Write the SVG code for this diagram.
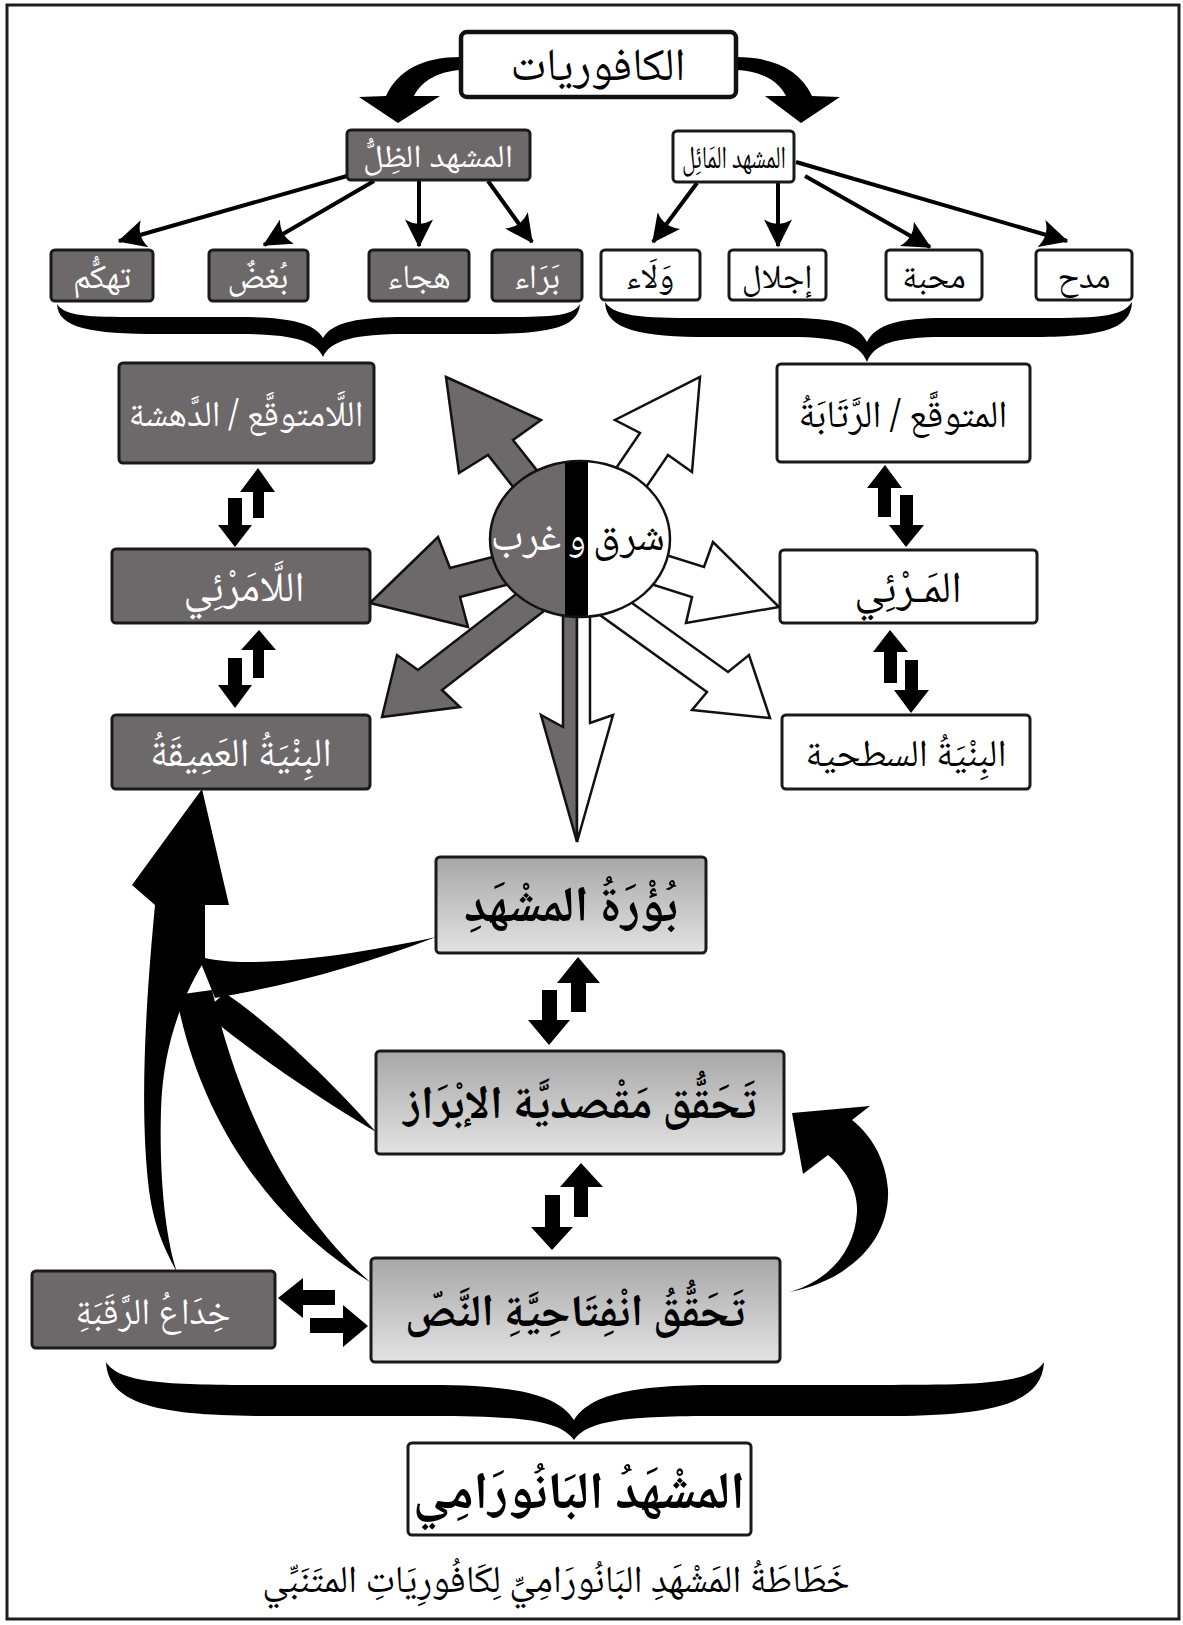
<svg xmlns="http://www.w3.org/2000/svg" width="1183" height="1625" viewBox="0 0 1183 1625">
  <defs>
    <linearGradient id="boxGrad" x1="0" y1="0" x2="0" y2="1">
      <stop offset="0" stop-color="#a7a7a7"/>
      <stop offset="1" stop-color="#e3e3e3"/>
    </linearGradient>
    <marker id="barb" viewBox="0 0 10 10" refX="9.5" refY="5" markerWidth="7.5" markerHeight="7" orient="auto" markerUnits="strokeWidth">
      <path d="M0,0 L10,5 L0,10 Q3,5 0,0 Z" fill="#000"/>
    </marker>
    <clipPath id="disc">
      <ellipse cx="580" cy="539" rx="90" ry="78"/>
    </clipPath>
  </defs>
  <style>
    .ar { font-family: "Noto Naskh Arabic", "Noto Sans Arabic", "DejaVu Sans", sans-serif; text-anchor: middle; direction: rtl; }
    .dark { fill: #6d6869; stroke: #1a1a1a; stroke-width: 3; }
    .light { fill: #ffffff; stroke: #1a1a1a; stroke-width: 3; }
    .grad { fill: url(#boxGrad); stroke: #1a1a1a; stroke-width: 3; }
    .wt { fill: #ffffff; }
    .bk { fill: #000000; }
    .link { stroke: #000; stroke-width: 4; fill: none; marker-end: url(#barb); }
    .ray-g { fill: #6d6869; stroke: #111; stroke-width: 2.5; stroke-linejoin: miter; }
    .ray-w { fill: #ffffff; stroke: #111; stroke-width: 2.5; stroke-linejoin: miter; }
    .solid { fill: #000000; }
    .brace { fill: #000000; }
  </style>

  <rect width="1183" height="1625" fill="#ffffff"/>
  <rect x="7" y="5" width="1172" height="1614" fill="none" stroke="#1e1e1e" stroke-width="3"/>

  <!-- connectors -->
  <g id="connectors">
    <!-- root to the two scenes -->
    <path class="solid" d="M461,57 C423,57 398,70 386,96 L359,97 L398,123 L440,96 L414,96 C422,80 440,71 461,70 Z"/>
    <path class="solid" d="M736,57 C774,57 800,70 812,96 L840,97 L801,123 L765,96 L786,96 C778,80 760,71 736,70 Z"/>

    <!-- shadow scene fan -->
    <line class="link" x1="347" y1="176" x2="119" y2="241"/>
    <line class="link" x1="374" y1="181" x2="264" y2="245"/>
    <line class="link" x1="419" y1="181" x2="419" y2="246"/>
    <line class="link" x1="488" y1="181" x2="532" y2="242"/>
    <!-- tilted scene fan -->
    <line class="link" x1="697" y1="183" x2="653" y2="242"/>
    <line class="link" x1="778" y1="183" x2="778" y2="246"/>
    <line class="link" x1="805" y1="176" x2="930" y2="247"/>
    <line class="link" x1="796" y1="162" x2="1067" y2="241"/>

    <!-- braces -->
    <path class="brace" d="M57,304 C58,328 90,334 160,334 L240,334 C290,334 316,340 323,357 C330,340 356,334 406,334 L480,334 C550,334 578,328 580,304 C572,318 545,317 480,317 L406,317 C360,317 332,322 323,338 C314,322 286,317 240,317 L160,317 C95,317 66,318 57,304 Z"/>
    <path class="brace" d="M605,302 C606,330 640,337 710,337 L790,337 C840,337 860,344 867,362 C874,344 894,337 944,337 L1030,337 C1100,337 1131,330 1132,302 C1122,318 1095,318 1030,318 L944,318 C900,318 876,324 867,342 C858,324 834,318 790,318 L710,318 C650,318 615,318 605,302 Z"/>
    <path class="brace" d="M106,1362 C108,1405 160,1416 270,1416 L430,1416 C520,1416 560,1420 574,1440 C588,1420 628,1416 718,1416 L880,1416 C990,1416 1042,1405 1044,1362 C1030,1384 980,1385 880,1385 L718,1385 C630,1385 590,1395 574,1420 C558,1395 518,1385 430,1385 L270,1385 C170,1385 120,1384 106,1362 Z"/>

    <!-- paired arrows, left column -->
    <path class="solid" d="M228,498 L242,498 L242,525 L252,525 L235,547 L218,525 L228,525 Z"/>
    <path class="solid" d="M253,518 L264,518 L264,492 L275,492 L258,468 L240,492 L253,492 Z"/>
    <path class="solid" d="M228,658 L242,658 L242,685 L252,685 L235,708 L218,685 L228,685 Z"/>
    <path class="solid" d="M253,678 L264,678 L264,650 L276,650 L259,630 L241,650 L253,650 Z"/>
    <!-- paired arrows, right column -->
    <path class="solid" d="M878,517 L891,517 L891,488 L902,488 L885,465 L867,488 L878,488 Z"/>
    <path class="solid" d="M900,495 L913,495 L913,525 L924,525 L906,547 L889,525 L900,525 Z"/>
    <path class="solid" d="M884,683 L897,683 L897,652 L908,652 L890,630 L873,652 L884,652 Z"/>
    <path class="solid" d="M905,660 L918,660 L918,690 L929,690 L911,713 L894,690 L905,690 Z"/>
    <!-- paired arrows, centre column -->
    <path class="solid" d="M542,990 L557,990 L557,1020 L570,1020 L549,1045 L528,1020 L542,1020 Z"/>
    <path class="solid" d="M571,1012 L586,1012 L586,983 L600,983 L578,957 L557,983 L571,983 Z"/>
    <path class="solid" d="M545,1195 L560,1195 L560,1227 L573,1227 L552,1250 L531,1227 L545,1227 Z"/>
    <path class="solid" d="M574,1217 L588,1217 L588,1187 L603,1187 L581,1163 L560,1187 L574,1187 Z"/>
    <!-- paired arrows, horizontal -->
    <path class="solid" d="M335,1290 L335,1305 L303,1305 L303,1318 L278,1298 L303,1278 L303,1290 Z"/>
    <path class="solid" d="M310,1318 L343,1318 L343,1305 L368,1326 L343,1347 L343,1333 L310,1333 Z"/>

    <!-- sweeping arrow into the deep structure -->
    <path class="solid" d="M202,789 L229,905 L205,905 L205,960 C186,990 163,1040 161,1110 C159,1180 166,1240 177,1272 C166,1252 154,1228 149,1190 C138,1100 148,980 155,905 L132,885 Z"/>
    <path class="solid" d="M176,995 C200,1120 270,1222 370,1282 C290,1210 240,1110 212,990 Z"/>
    <path class="solid" d="M225,993 C272,1025 330,1080 376,1132 C322,1100 262,1060 203,1012 Z"/>
    <path class="solid" d="M198,956 C240,970 340,958 436,937 C360,966 290,985 215,998 Z"/>

    <!-- return arrow on the right -->
    <path class="solid" d="M790,1292 C850,1280 890,1240 888,1190 C886,1160 872,1136 852,1120 L870,1106 L792,1113 L803,1174 L828,1155 C846,1170 858,1190 857,1212 C855,1250 830,1280 790,1292 Z"/>
  </g>

  <!-- east / west rose -->
  <g id="rose">
    <polygon class="ray-g" points="446,377 541,420 513,440 550,487 525,502 488,455 459,473"/>
    <polygon class="ray-g" points="370,603 438,537 450,568 508,553 518,582 460,597 468,627"/>
    <polygon class="ray-g" points="382,717 397,655 418,670 529,584 553,604 442,690 460,707"/>
    <polygon class="ray-w" points="700,377 692,472 668,455 634,505 606,483 640,433 615,420"/>
    <polygon class="ray-w" points="779,607 686,623 692,597 635,579 647,549 704,567 713,542"/>
    <polygon class="ray-w" points="770,718 692,710 707,692 593,610 614,590 728,672 749,655"/>
    <polygon class="ray-g" points="563,600 577,600 577,842 541,715 563,727"/>
    <polygon class="ray-w" points="577,600 590,600 590,723 613,715 577,842"/>
    <ellipse cx="580" cy="539" rx="90" ry="78" fill="#ffffff"/>
    <rect x="480" y="450" width="97" height="180" fill="#6d6869" clip-path="url(#disc)"/>
    <rect x="565" y="450" width="23" height="180" fill="#000000" clip-path="url(#disc)"/>
    <ellipse cx="580" cy="539" rx="90" ry="78" fill="none" stroke="#111" stroke-width="2.5"/>
    <text class="ar wt" x="526" y="550" font-size="42">غرب</text>
    <text class="ar wt" x="577" y="550" font-size="38">و</text>
    <text class="ar bk" x="629" y="550" font-size="42">شرق</text>
  </g>

  <!-- nodes -->
  <g id="n-root">
    <rect x="461" y="32" width="275" height="65" rx="6" fill="#fff" stroke="#111" stroke-width="4.5"/>
    <text class="ar bk" x="598" y="80" font-size="46">الكافوريات</text>
  </g>
  <g id="n-shadow">
    <rect class="dark" x="347" y="130" width="183" height="50" rx="4"/>
    <text class="ar wt" x="438" y="167" font-size="32" textLength="150" lengthAdjust="spacingAndGlyphs">المشهد الظِلُّ</text>
  </g>
  <g id="n-tilted">
    <rect class="light" x="673" y="131" width="121" height="51" rx="4"/>
    <text class="ar bk" x="734" y="168" font-size="32" textLength="104" lengthAdjust="spacingAndGlyphs">المشهد المَائِل</text>
  </g>

  <g id="n-tahakkum">
    <rect class="dark" x="51" y="250" width="102" height="51" rx="4"/>
    <text class="ar wt" x="102" y="288" font-size="34">تهكُّم</text>
  </g>
  <g id="n-bughd">
    <rect class="dark" x="209" y="250" width="99" height="51" rx="4"/>
    <text class="ar wt" x="258" y="288" font-size="34">بُغضٌ</text>
  </g>
  <g id="n-hija">
    <rect class="dark" x="369" y="250" width="100" height="51" rx="4"/>
    <text class="ar wt" x="419" y="288" font-size="34">هجاء</text>
  </g>
  <g id="n-baraa">
    <rect class="dark" x="492" y="250" width="90" height="51" rx="4"/>
    <text class="ar wt" x="537" y="288" font-size="34">بَرَاء</text>
  </g>
  <g id="n-walaa">
    <rect class="light" x="601" y="250" width="99" height="50" rx="4"/>
    <text class="ar bk" x="650" y="288" font-size="34">وَلَاء</text>
  </g>
  <g id="n-ijlal">
    <rect class="light" x="729" y="250" width="97" height="50" rx="4"/>
    <text class="ar bk" x="777" y="288" font-size="34">إجلال</text>
  </g>
  <g id="n-mahabba">
    <rect class="light" x="886" y="250" width="96" height="50" rx="4"/>
    <text class="ar bk" x="934" y="288" font-size="34">محبة</text>
  </g>
  <g id="n-madh">
    <rect class="light" x="1036" y="250" width="96" height="50" rx="4"/>
    <text class="ar bk" x="1084" y="288" font-size="34">مدح</text>
  </g>

  <g id="n-unexpected">
    <rect class="dark" x="119" y="363" width="255" height="100" rx="4"/>
    <text class="ar wt" x="246" y="426" font-size="36">اللَّامتوقَّع / الدَّهشة</text>
  </g>
  <g id="n-invisible">
    <rect class="dark" x="112" y="549" width="258" height="74" rx="4"/>
    <text class="ar wt" x="244" y="601" font-size="42">اللَّامَرْئِي</text>
  </g>
  <g id="n-deep">
    <rect class="dark" x="112" y="715" width="258" height="74" rx="4"/>
    <text class="ar wt" x="241" y="766" font-size="40">البِنْيَةُ العَمِيقَةُ</text>
  </g>
  <g id="n-expected">
    <rect class="light" x="777" y="364" width="253" height="98" rx="4"/>
    <text class="ar bk" x="903" y="427" font-size="38">المتوقَّع / الرَّتَابَةُ</text>
  </g>
  <g id="n-visible">
    <rect class="light" x="780" y="550" width="257" height="73" rx="4"/>
    <text class="ar bk" x="908" y="602" font-size="44">المَـرْئِي</text>
  </g>
  <g id="n-surface">
    <rect class="light" x="782" y="715" width="248" height="74" rx="4"/>
    <text class="ar bk" x="906" y="766" font-size="38">البِنْيَةُ السطحية</text>
  </g>

  <g id="n-focus">
    <rect class="grad" x="436" y="857" width="270" height="96" rx="4"/>
    <text class="ar bk" x="571" y="921" font-size="50" font-weight="bold">بُؤْرَةُ المشْهَدِ</text>
  </g>
  <g id="n-intent">
    <rect class="grad" x="376" y="1051" width="408" height="103" rx="4"/>
    <text class="ar bk" x="580" y="1118" font-size="46" font-weight="bold">تَحَقُّق مَقْصديَّة الإبْرَاز</text>
  </g>
  <g id="n-openness">
    <rect class="grad" x="371" y="1258" width="409" height="104" rx="4"/>
    <text class="ar bk" x="575" y="1326" font-size="45" font-weight="bold">تَحَقُّقُ انْفِتَاحِيَّةِ النَّصّ</text>
  </g>
  <g id="n-deceit">
    <rect class="dark" x="32" y="1271" width="243" height="77" rx="4"/>
    <text class="ar wt" x="153" y="1324" font-size="37">خِدَاعُ الرَّقَبَةِ</text>
  </g>
  <g id="n-panorama">
    <rect class="light" x="408" y="1443" width="343" height="92" rx="4"/>
    <text class="ar bk" x="579" y="1508" font-size="52" font-weight="bold">المشْهَدُ البَانُورَامِي</text>
  </g>

  <text class="ar bk" x="556" y="1592" font-size="38">خَطَاطَةُ المَشْهَدِ البَانُورَامِيِّ لِكَافُورِيَاتِ المتَنَبِّي</text>
</svg>
